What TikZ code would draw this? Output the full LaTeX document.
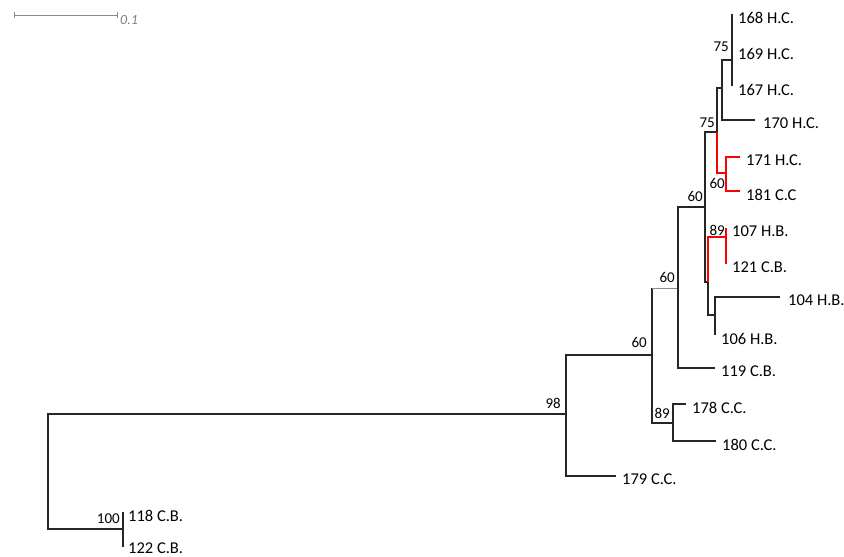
\documentclass[tikz,border=0pt]{standalone}
\usepackage{fontspec}
\setmainfont{Carlito}
\usetikzlibrary{arrows.meta}

\begin{document}
\begin{tikzpicture}[
    x=1pt, y=-1pt,
    branch/.style={draw=black!85, line width=1.2pt},
    hl/.style={draw=red, line width=2.4pt},
    faint/.style={draw=black!45, line width=1pt},
    tiplab/.style={
        font=\fontsize{16.5}{19}\selectfont,
        inner sep=0pt,
        label distance=6pt,
        yshift=-3.5pt
    },
    bs/.style={font=\fontsize{15}{17}\selectfont, inner sep=0pt},
    scalebar/.style={draw=black!45, line width=1pt,
        {Bar[width=6pt]}-{Bar[width=6pt]}}
]
\useasboundingbox (0,0) rectangle (844,557);

% ============================================================
% SCALE BAR
% ============================================================
\coordinate (sb0) at (14,15);
\coordinate (sb1) at (118,15);
\draw[scalebar] (sb0) -- (sb1);
\node[anchor=west, inner sep=0pt, xshift=2pt, yshift=-5pt, text=black!50,
      font=\fontsize{14}{16}\selectfont\itshape] (sblab) at (sb1) {0.1};

% ============================================================
% INTERNAL NODES
% ============================================================
\coordinate (root) at (48,472);
\coordinate (n100) at (123,529);
\coordinate (n98) at (566,414);
\coordinate (nY) at (652,355);
\coordinate (nZ) at (673,423);
\coordinate (nX) at (678,288);
\coordinate (nP) at (705,207);
\coordinate (nQ) at (717,132);
\coordinate (nR) at (722,88);
\coordinate (nT) at (732,60);
\coordinate (nS) at (726,173);
\coordinate (nU) at (708,282);
\coordinate (nV) at (726,237);
\coordinate (nW) at (715,315);

% ============================================================
% TIPS
% ============================================================
\coordinate[label={[tiplab]right:168 H.C.}] (t168) at (732,14);
\coordinate[label={[tiplab]right:169 H.C.}] (t169) at (732,50);
\coordinate[label={[tiplab]right:167 H.C.}] (t167) at (732,86);
\coordinate[label={[tiplab, label distance=8pt]right:170 H.C.}] (t170) at (755,120);
\coordinate[label={[tiplab]right:171 H.C.}] (t171) at (740,157);
\coordinate[label={[tiplab]right:181 C.C}] (t181) at (740,191);
\coordinate[label={[tiplab]right:107 H.B.}] (t107) at (726,228);
\coordinate[label={[tiplab]right:121 C.B.}] (t121) at (726,264);
\coordinate[label={[tiplab, label distance=8pt]right:104 H.B.}] (t104) at (780,297);
\coordinate[label={[tiplab]right:106 H.B.}] (t106) at (715,335);
\coordinate[label={[tiplab]right:119 C.B.}] (t119) at (715,368);
\coordinate[label={[tiplab]right:178 C.C.}] (t178) at (686,404);
\coordinate[label={[tiplab]right:180 C.C.}] (t180) at (716,441);
\coordinate[label={[tiplab]right:179 C.C.}] (t179) at (616,476);
\coordinate[label={[tiplab, label distance=5pt]right:118 C.B.}] (t118) at (123,512);
\coordinate[label={[tiplab, label distance=5pt, yshift=2pt]right:122 C.B.}] (t122) at (123,547);

% ============================================================
% BRANCHES
% ============================================================
\draw[branch] (root) |- (n98);
\draw[branch] (root) |- (n100);
\draw[branch] (n100) |- (t118);
\draw[branch] (n100) |- (t122);

\draw[branch] (n98) |- (nY);
\draw[branch] (n98) |- (t179);

\draw[branch] (nY) -- (nY |- nX);
\draw[faint] (nY |- nX) -- (nX);
\draw[branch] (nY) |- (nZ);
\draw[branch] (nZ) |- (t178);
\draw[branch] (nZ) |- (t180);

\draw[branch] (nX) |- (nP);
\draw[branch] (nX) |- (t119);

\draw[branch] (nP) |- (nQ);
\draw[branch] (nP) |- (nU);

\draw[branch] (nQ) |- (nR);
\draw[branch] (nR) |- (nT);
\draw[branch] (nR) |- (t170);
\draw[branch] (nT) |- (t168);
\draw[branch] (nT) |- (t169);
\draw[branch] (nT) |- (t167);

\draw[branch] (nU) |- (nW);
\draw[branch] (nW) |- (t104);
\draw[branch] (nW) |- (t106);

% highlighted clades
\draw[hl] (nQ) |- (nS);
\draw[hl] (nS) |- (t171);
\draw[hl] (nS) |- (t181);
\draw[hl] (nU) |- (nV);
\draw[hl] (nV) |- (t107);
\draw[hl] (nV) |- (t121);

% ============================================================
% BOOTSTRAP VALUES
% ============================================================
\node[bs, anchor=south east] (b100) at ([shift={(-3,-5)}]n100) {100};
\node[bs, anchor=south east] (b98) at ([shift={(-5,-5)}]n98) {98};
\node[bs, anchor=south east] (bY) at ([shift={(-5,-7)}]nY) {60};
\node[bs, anchor=south east] (bZ) at ([shift={(-3,-4)}]nZ) {89};
\node[bs, anchor=south east] (bX) at ([shift={(-3,-5)}]nX) {60};
\node[bs, anchor=south east] (bP) at ([shift={(-2,-5)}]nP) {60};
\node[bs, anchor=south east] (bQ) at ([shift={(-2,-4)}]nQ) {75};
\node[bs, anchor=south east] (bT) at ([shift={(-3,-8)}]nT) {75};
\node[bs, anchor=north east] (bS) at ([shift={(-1,5)}]nS) {60};
\node[bs, anchor=south east] (bV) at ([shift={(-1,-1)}]nV) {89};

\end{tikzpicture}
\end{document}
